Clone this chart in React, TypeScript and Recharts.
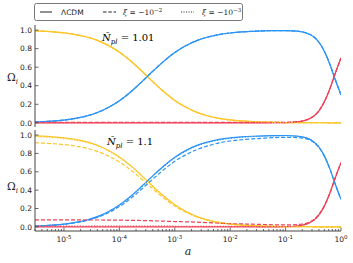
import { LineChart, Line, XAxis, YAxis } from "recharts";

// scale factor a (log axis)
const A = [
  3e-6, 4e-6, 6.3e-6, 1e-5, 1.6e-5, 2.5e-5, 4e-5, 6.3e-5, 1e-4, 1.6e-4, 2.5e-4,
  4e-4, 6.3e-4, 1e-3, 1.6e-3, 2.5e-3, 4e-3, 6.3e-3, 0.01, 0.016, 0.025, 0.04,
  0.063, 0.1, 0.16, 0.2, 0.25, 0.32, 0.4, 0.5, 0.63, 0.79, 1,
];

// ΛCDM (solid, both panels)
const LCDM_RAD = [
  0.991, 0.988, 0.981, 0.97, 0.952, 0.928, 0.889, 0.835, 0.762, 0.667, 0.561,
  0.444, 0.337, 0.242, 0.167, 0.113, 0.074, 0.048, 0.031, 0.02, 0.013, 0.008,
  0.005, 0.003, 0.002, 0.0016, 0.0013, 0.001, 0.0008, 0.0006, 0.0005, 0.0004, 0.0003,
];
const LCDM_MAT = [
  0.009, 0.012, 0.019, 0.03, 0.048, 0.072, 0.111, 0.165, 0.238, 0.333, 0.439,
  0.556, 0.663, 0.758, 0.833, 0.887, 0.926, 0.952, 0.969, 0.98, 0.987, 0.992,
  0.994, 0.995, 0.9885, 0.98, 0.9635, 0.928, 0.869, 0.773, 0.6315, 0.4646, 0.2997,
];
const LCDM_DE = [
  0, 0, 0, 0, 0, 0, 0, 0, 0, 0, 0, 0, 0, 0, 0, 0, 0, 0, 0, 0, 0, 0.0002, 0.0006,
  0.0023, 0.0095, 0.0183, 0.0352, 0.071, 0.13, 0.226, 0.368, 0.535, 0.7,
];

// top panel, N_pl = 1.01 (radiation / matter coincide with ΛCDM)
const TOP_DASH_DE = [
  0.006, 0.006, 0.006, 0.006, 0.006, 0.006, 0.006, 0.006, 0.006, 0.006, 0.006,
  0.006, 0.006, 0.006, 0.006, 0.006, 0.006, 0.005, 0.005, 0.005, 0.005, 0.005,
  0.005, 0.005, 0.012, 0.02, 0.037, 0.072, 0.131, 0.227, 0.368, 0.535, 0.7,
];
const TOP_DOT_DE = [
  0.001, 0.001, 0.001, 0.001, 0.001, 0.001, 0.001, 0.001, 0.001, 0.001, 0.001,
  0.001, 0.001, 0.001, 0.001, 0.001, 0.001, 0.001, 0.001, 0.001, 0.001, 0.001,
  0.001, 0.003, 0.0095, 0.0183, 0.0352, 0.071, 0.13, 0.226, 0.368, 0.535, 0.7,
];

// bottom panel, N_pl = 1.1
const BOT_DASH_RAD = [
  0.916, 0.913, 0.906, 0.896, 0.88, 0.858, 0.822, 0.773, 0.706, 0.62, 0.522,
  0.415, 0.316, 0.228, 0.158, 0.107, 0.071, 0.046, 0.03, 0.019, 0.013, 0.008,
  0.005, 0.003, 0.002, 0.0016, 0.0013, 0.001, 0.0008, 0.0006, 0.0005, 0.0004, 0.0003,
];
const BOT_DASH_MAT = [
  0.008, 0.011, 0.018, 0.028, 0.044, 0.067, 0.103, 0.153, 0.221, 0.309, 0.409,
  0.519, 0.622, 0.714, 0.787, 0.842, 0.883, 0.914, 0.935, 0.949, 0.958, 0.966,
  0.972, 0.975, 0.973, 0.967, 0.954, 0.92, 0.863, 0.77, 0.6305, 0.4636, 0.2997,
];
const BOT_DASH_DE = [
  0.076, 0.076, 0.076, 0.076, 0.076, 0.075, 0.075, 0.074, 0.073, 0.071, 0.069,
  0.066, 0.062, 0.058, 0.055, 0.051, 0.046, 0.04, 0.035, 0.032, 0.029, 0.026,
  0.023, 0.022, 0.025, 0.031, 0.045, 0.079, 0.136, 0.229, 0.369, 0.536, 0.7,
];
const BOT_DOT_RAD = [
  0.983, 0.98, 0.973, 0.962, 0.944, 0.921, 0.882, 0.828, 0.756, 0.662, 0.557,
  0.44, 0.334, 0.24, 0.166, 0.112, 0.073, 0.048, 0.031, 0.02, 0.013, 0.008,
  0.005, 0.003, 0.002, 0.0016, 0.0013, 0.001, 0.0008, 0.0006, 0.0005, 0.0004, 0.0003,
];
const BOT_DOT_MAT = [
  0.009, 0.012, 0.019, 0.03, 0.048, 0.071, 0.11, 0.164, 0.236, 0.33, 0.435,
  0.552, 0.658, 0.753, 0.827, 0.882, 0.921, 0.947, 0.964, 0.976, 0.983, 0.989,
  0.992, 0.993, 0.987, 0.979, 0.963, 0.928, 0.869, 0.773, 0.6315, 0.4646, 0.2997,
];
const BOT_DOT_DE = [
  0.008, 0.008, 0.008, 0.008, 0.008, 0.008, 0.008, 0.008, 0.008, 0.008, 0.008,
  0.008, 0.008, 0.007, 0.007, 0.006, 0.006, 0.005, 0.005, 0.004, 0.004, 0.003,
  0.003, 0.004, 0.011, 0.019, 0.036, 0.071, 0.13, 0.226, 0.368, 0.535, 0.7,
];

const MAJOR_X = [1e-5, 1e-4, 1e-3, 1e-2, 1e-1, 1];
const MINOR_X: number[] = [];
for (let k = -6; k <= -1; k++) {
  for (let m = 2; m <= 9; m++) {
    const v = m * Math.pow(10, k);
    if (v >= 3e-6 && v < 1) MINOR_X.push(v);
  }
}
const X_TICKS = [...MAJOR_X, ...MINOR_X].sort((p, q) => p - q);
const Y_TICKS = [0, 0.2, 0.4, 0.6, 0.8, 1];

const BLUE = "#2b93f6";
const YELLOW = "#fcc628";
const RED = "#ef3f55";
const FRAME = "#444";
const TXT = "#222";
const SANS = "DejaVu Sans, sans-serif";
const SERIF = "DejaVu Serif, serif";

const topData = A.map((a, i) => ({
  a,
  r: LCDM_RAD[i],
  m: LCDM_MAT[i],
  de: LCDM_DE[i],
  rDash: LCDM_RAD[i],
  mDash: LCDM_MAT[i],
  deDash: TOP_DASH_DE[i],
  rDot: LCDM_RAD[i],
  mDot: LCDM_MAT[i],
  deDot: TOP_DOT_DE[i],
}));

const botData = A.map((a, i) => ({
  a,
  r: LCDM_RAD[i],
  m: LCDM_MAT[i],
  de: LCDM_DE[i],
  rDash: BOT_DASH_RAD[i],
  mDash: BOT_DASH_MAT[i],
  deDash: BOT_DASH_DE[i],
  rDot: BOT_DOT_RAD[i],
  mDot: BOT_DOT_MAT[i],
  deDot: BOT_DOT_DE[i],
}));

const isMajor = (v: number) => MAJOR_X.some((t) => Math.abs(t - v) / t < 1e-6);

function XTick(props: any) {
  const { x, y, payload, side, labels } = props;
  const v = payload.value;
  const major = isMajor(v);
  const len = major ? 3.5 : 2;
  const dir = side === "top" ? 1 : -1;
  return (
    <g>
      <line x1={x} x2={x} y1={y} y2={y + dir * len} stroke={FRAME} strokeWidth={0.8} />
      {labels && major && (
        <text x={x} y={y + 11} textAnchor="middle" fontSize={7.5} fontFamily={SANS} fill={TXT}>
          10
          <tspan dy={-3} fontSize={5.5}>
            {String(Math.round(Math.log10(v)))}
          </tspan>
        </text>
      )}
    </g>
  );
}

function YTick(props: any) {
  const { x, y, payload, side } = props;
  const dir = side === "right" ? -1 : 1;
  return (
    <g>
      <line x1={x} x2={x + dir * 3.5} y1={y} y2={y} stroke={FRAME} strokeWidth={0.8} />
      {side === "left" && (
        <text x={x - 3} y={y + 2.7} textAnchor="end" fontSize={7.5} fontFamily={SANS} fill={TXT}>
          {payload.value.toFixed(1)}
        </text>
      )}
    </g>
  );
}

function Panel({ data, height, margin, labels }: any) {
  const lw = 1.2;
  const series = [
    { key: "r", color: YELLOW, dash: undefined },
    { key: "m", color: BLUE, dash: undefined },
    { key: "de", color: RED, dash: undefined },
    { key: "rDash", color: YELLOW, dash: "4 2" },
    { key: "mDash", color: BLUE, dash: "4 2" },
    { key: "deDash", color: RED, dash: "4 2" },
    { key: "rDot", color: YELLOW, dash: "1.2 1.6" },
    { key: "mDot", color: BLUE, dash: "1.2 1.6" },
    { key: "deDot", color: RED, dash: "1.2 1.6" },
  ];
  return (
    <LineChart width={353} height={height} data={data} margin={margin}>
      <XAxis
        dataKey="a"
        type="number"
        scale="log"
        domain={[3e-6, 1]}
        allowDataOverflow
        ticks={X_TICKS}
        interval={0}
        height={labels ? 22 : 0}
        tickSize={0}
        tickMargin={0}
        tickLine={false}
        axisLine={{ stroke: FRAME, strokeWidth: 1 }}
        tick={(p: any) => <XTick {...p} side="bottom" labels={labels} />}
      />
      <XAxis
        xAxisId="top"
        orientation="top"
        dataKey="a"
        type="number"
        scale="log"
        domain={[3e-6, 1]}
        allowDataOverflow
        ticks={X_TICKS}
        interval={0}
        height={0}
        tickSize={0}
        tickMargin={0}
        tickLine={false}
        axisLine={{ stroke: FRAME, strokeWidth: 1 }}
        tick={(p: any) => <XTick {...p} side="top" labels={false} />}
      />
      <YAxis
        type="number"
        domain={[-0.045, 1.055]}
        allowDataOverflow
        ticks={Y_TICKS}
        interval={0}
        width={35}
        tickSize={0}
        tickMargin={0}
        tickLine={false}
        axisLine={{ stroke: FRAME, strokeWidth: 1 }}
        tick={(p: any) => <YTick {...p} side="left" />}
      />
      <YAxis
        yAxisId="right"
        orientation="right"
        type="number"
        domain={[-0.045, 1.055]}
        allowDataOverflow
        ticks={Y_TICKS}
        interval={0}
        width={0}
        tickSize={0}
        tickMargin={0}
        tickLine={false}
        axisLine={{ stroke: FRAME, strokeWidth: 1 }}
        tick={(p: any) => <YTick {...p} side="right" />}
      />
      {series.map((s) => (
        <Line
          key={s.key}
          dataKey={s.key}
          type="monotone"
          stroke={s.color}
          strokeWidth={lw}
          strokeDasharray={s.dash}
          dot={false}
          activeDot={false}
          isAnimationActive={false}
        />
      ))}
    </LineChart>
  );
}

function Overlay() {
  return (
    <svg width={353} height={263} style={{ position: "absolute", left: 0, top: 0, pointerEvents: "none" }}>
      {/* legend */}
      <rect x={34.5} y={3.5} width={208} height={17} rx={2} fill="#fff" stroke="#555" strokeWidth={0.8} />
      <line x1={40} x2={52} y1={12} y2={12} stroke={TXT} strokeWidth={1} />
      <text x={61} y={14.8} fontSize={7.5} fontFamily={SANS} fill={TXT}>
        ΛCDM
      </text>
      <line x1={103} x2={116} y1={12} y2={12} stroke={TXT} strokeWidth={1} strokeDasharray="3.5 1.8" />
      <text x={123} y={14.8} fontSize={7.5} fontFamily={SERIF} fill={TXT}>
        <tspan fontStyle="italic">ξ</tspan> = −10
        <tspan dy={-3} fontSize={5.5}>−2</tspan>
      </text>
      <line x1={181} x2={194} y1={12} y2={12} stroke={TXT} strokeWidth={1} strokeDasharray="1 1.5" />
      <text x={202} y={14.8} fontSize={7.5} fontFamily={SERIF} fill={TXT}>
        <tspan fontStyle="italic">ξ</tspan> = −10
        <tspan dy={-3} fontSize={5.5}>−3</tspan>
      </text>

      {/* panel annotations */}
      <text x={102} y={41} fontSize={10} fontFamily={SERIF} fill="#000">
        <tspan fontStyle="italic">Ñ</tspan>
        <tspan fontStyle="italic" fontSize={7} dy={2.5}>pl</tspan>
        <tspan dy={-2.5}> = 1.01</tspan>
      </text>
      <text x={107} y={145} fontSize={10} fontFamily={SERIF} fill="#000">
        <tspan fontStyle="italic">Ñ</tspan>
        <tspan fontStyle="italic" fontSize={7} dy={2.5}>pl</tspan>
        <tspan dy={-2.5}> = 1.1</tspan>
      </text>

      {/* axis labels */}
      <text x={7} y={81} fontSize={10.5} fontFamily={SERIF} fill={TXT}>
        Ω<tspan fontStyle="italic" fontSize={7} dy={2.5}>i</tspan>
      </text>
      <text x={7} y={190} fontSize={10.5} fontFamily={SERIF} fill={TXT}>
        Ω<tspan fontStyle="italic" fontSize={7} dy={2.5}>i</tspan>
      </text>
      <text x={188} y={255} textAnchor="middle" fontSize={11} fontStyle="italic" fontFamily={SERIF} fill={TXT}>
        a
      </text>
    </svg>
  );
}

export default function App() {
  return (
    <div style={{ position: "absolute", left: 0, top: 0, width: 353, height: 263, background: "#fff" }}>
      <div style={{ position: "absolute", left: 0, top: 0 }}>
        <Panel data={topData} height={130} margin={{ top: 25, right: 12, bottom: 3, left: 0 }} labels={false} />
      </div>
      <div style={{ position: "absolute", left: 0, top: 128 }}>
        <Panel data={botData} height={135} margin={{ top: 2, right: 12, bottom: 10, left: 0 }} labels={true} />
      </div>
      <Overlay />
    </div>
  );
}
